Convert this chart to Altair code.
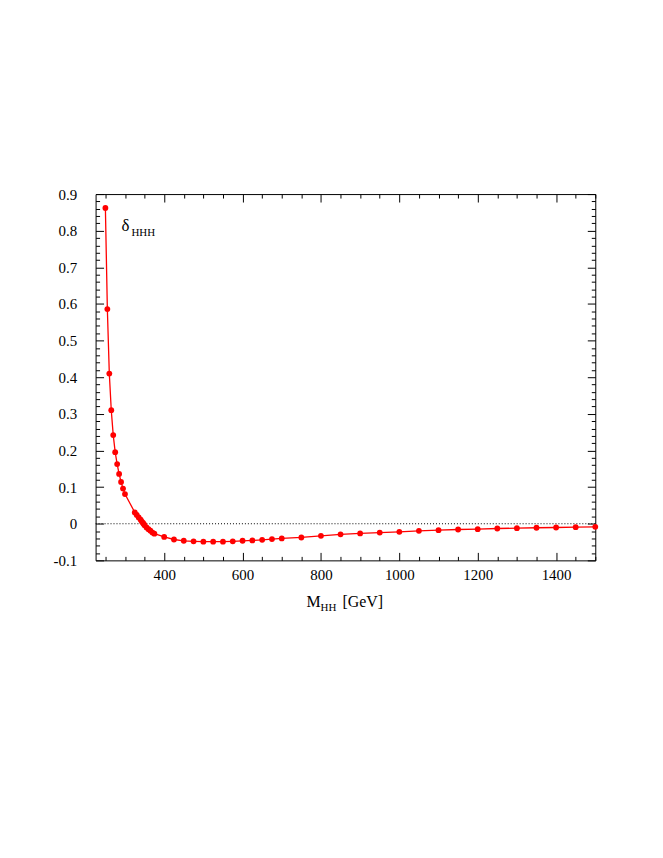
import altair as alt
import pandas as pd
import numpy as np

# data
m_hh = [250, 255, 260, 265, 270, 275, 280, 285, 290, 295, 300,
        325, 330, 335, 340, 343, 346, 348, 350, 355, 360, 365, 370, 375,
        400, 425, 450, 475, 500, 525, 550, 575, 600, 625, 650, 675, 700,
        750, 800, 850, 900, 950, 1000, 1050, 1100, 1150, 1200, 1250, 1300,
        1350, 1400, 1450, 1500]
delta = [0.862, 0.586, 0.410, 0.310, 0.242, 0.1955, 0.163, 0.136, 0.114, 0.096, 0.081,
         0.031, 0.024, 0.017, 0.011, 0.006, 0.002, -0.001, -0.004, -0.010, -0.015, -0.019, -0.024, -0.027,
         -0.036, -0.043, -0.0465, -0.048, -0.049, -0.049, -0.049, -0.048, -0.0465, -0.0455, -0.044, -0.042, -0.040,
         -0.0375, -0.033, -0.029, -0.0265, -0.024, -0.022, -0.0193, -0.0175, -0.0157, -0.0148, -0.013, -0.012,
         -0.011, -0.0103, -0.0093, -0.0085]

x_major = [400, 600, 800, 1000, 1200, 1400]
x_ticks = list(range(250, 1501, 50))
y_major = [-0.1, 0, 0.1, 0.2, 0.3, 0.4, 0.5, 0.6, 0.7, 0.8, 0.9]
y_ticks = [round(-0.1 + 0.02 * i, 2) for i in range(51)]

W, H = 502, 368
FONT = "Liberation Serif"
RED = "#ff0000"

df = pd.DataFrame({"m": m_hh, "d": delta})
xs = alt.Scale(domain=[225, 1500], nice=False, zero=False)
ys = alt.Scale(domain=[-0.1, 0.9], nice=False, zero=False)

x_tick_size = {"condition": {"test": "datum.value % 200 === 0", "value": 8}, "value": 4}
y_tick_size = {"condition": {"test": "abs(datum.value*10 - round(datum.value*10)) < 0.001", "value": 8}, "value": 4}

base = alt.Chart(df)

line = base.mark_line(color=RED, strokeWidth=1.3).encode(
    x=alt.X("m:Q", scale=xs, axis=alt.Axis(orient="bottom", values=x_major, ticks=False, domain=False,
                                            grid=False, title=None, labelFont=FONT, labelFontSize=15,
                                            labelColor="black", labelPadding=7, format="d")),
    y=alt.Y("d:Q", scale=ys, axis=alt.Axis(orient="left", values=y_major, ticks=False, domain=False,
                                            grid=False, title=None, labelFont=FONT, labelFontSize=15,
                                            labelColor="black", labelPadding=19,
                                            labelExpr="abs(datum.value) < 1e-9 ? '0' : (datum.value < 0 ? '-' : '') + format(abs(datum.value), '.1f')")),
)

points = base.mark_circle(color=RED, size=34, opacity=1).encode(
    x=alt.X("m:Q", scale=xs, axis=alt.Axis(orient="top", offset=-H, values=x_ticks, labels=False,
                                            domain=False, grid=False, title=None, tickColor="black",
                                            tickSize=x_tick_size, tickWidth=1)),
    y=alt.Y("d:Q", scale=ys, axis=alt.Axis(orient="right", offset=-W, values=y_ticks, labels=False,
                                            domain=False, grid=False, title=None, tickColor="black",
                                            tickSize=y_tick_size, tickWidth=1)),
)

ghost = base.mark_line(opacity=0).encode(
    x=alt.X("m:Q", scale=xs, axis=alt.Axis(orient="bottom", offset=-H, values=x_ticks, labels=False,
                                            domain=False, grid=False, title=None, tickColor="black",
                                            tickSize=x_tick_size, tickWidth=1)),
    y=alt.Y("d:Q", scale=ys, axis=alt.Axis(orient="left", offset=-W, values=y_ticks, labels=False,
                                            domain=False, grid=False, title=None, tickColor="black",
                                            tickSize=y_tick_size, tickWidth=1)),
)

zero = alt.Chart(pd.DataFrame({"z": [0]})).mark_rule(color="black", strokeDash=[1, 2], strokeWidth=1).encode(
    y=alt.Y("z:Q", scale=ys, axis=None)
)

def txt(s, x, y, size):
    return alt.Chart(pd.DataFrame({"t": [s]})).mark_text(
        font=FONT, fontSize=size, align="left", baseline="alphabetic", color="black"
    ).encode(text="t:N", x=alt.value(x), y=alt.value(y))

labels = [
    txt("δ", 26, 37, 17),
    txt("HHH", 36, 42, 11),
    txt("M", 212, 415, 16),
    txt("HH", 226, 419, 11),
    txt("[GeV]", 248, 415, 16),
]

chart = alt.layer(zero, line, points, ghost, *labels).resolve_axis(
    x="independent", y="independent"
).properties(
    width=W, height=H,
    autosize=alt.AutoSizeParams(type="none"),
    padding={"left": 88, "top": 185, "right": 60, "bottom": 280},
).configure_view(stroke="black", strokeWidth=1)

chart.save("out.html", embed_options={"renderer": "svg", "actions": False})
